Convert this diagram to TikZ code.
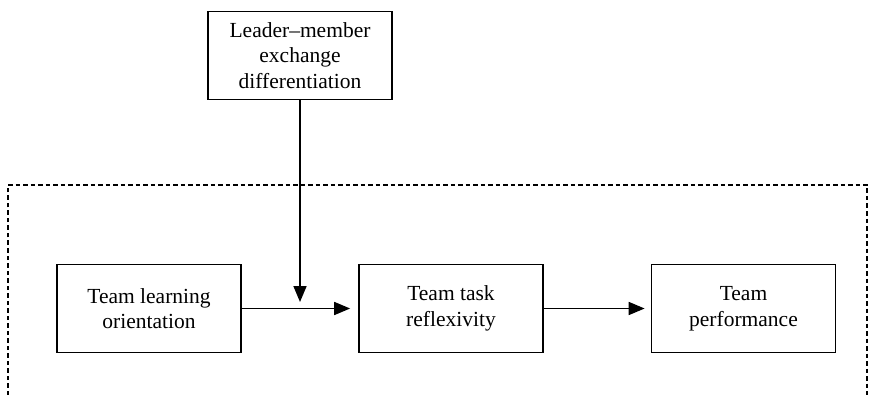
\documentclass[tikz,border=0pt]{standalone}
\usepackage{fontspec}
\setmainfont{Liberation Serif}
\usepackage{tikz}
\usetikzlibrary{arrows.meta,positioning}

\begin{document}
\begin{tikzpicture}[
	x=1pt, y=-1pt,
	font=\fontsize{21.5}{25.5}\selectfont,
	box/.style = {shape=rectangle,
		draw, align=center, line width=1.7pt,
		minimum width=184pt, minimum height=88pt},
	link/.style = {line width=1.7pt,
		-{Triangle[length=16pt,width=13pt]}},
	frame/.style = {line width=1.3pt, dash pattern=on 4.5pt off 3pt}]
	\useasboundingbox (0,0) rectangle (869,395);
	% moderator on top
	\node[box] (lmx) at (300,55.5) {Leader--member\\exchange\\differentiation};
	% main chain
	\node[box] (tlo) at (149,308.5) {Team learning\\orientation};
	\node[box] (ttr) at (451,308.5) {Team task\\reflexivity};
	\node[box] (tp) at (743.5,308.5) {Team\\performance};
	\coordinate (mod) at (lmx.south |- 0,302);
	% dashed frame, open at the bottom
	\draw[frame] (8,395) -- (8,185) -- (867,185) -- (867,395);
	\draw[link, shorten >=8pt] (tlo) -- (ttr);
	\draw[link, shorten >=6pt] (ttr) -- (tp);
	\draw[link] (lmx) -- (mod);
\end{tikzpicture}
\end{document}
